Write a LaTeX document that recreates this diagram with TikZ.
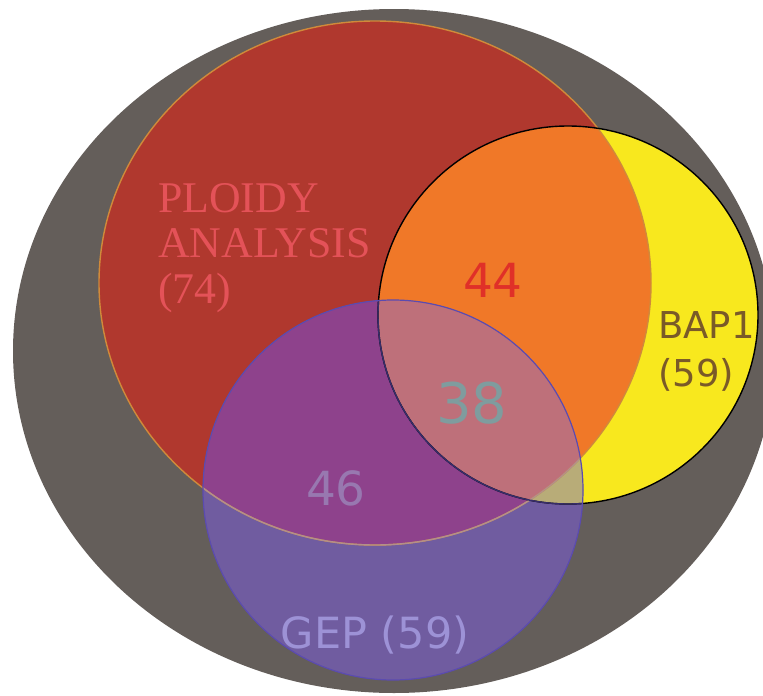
\documentclass[tikz,border=0pt]{standalone}
\usepackage{fontspec}
\setsansfont{DejaVu Sans}
\newfontfamily\ploidyfont{Liberation Serif}

\definecolor{bgGrey}{HTML}{645E5A}
\definecolor{plRed}{HTML}{B0382E}
\definecolor{plOrange}{HTML}{F07828}
\definecolor{bapYellow}{HTML}{F8E81E}
\definecolor{gepBlue}{HTML}{705CA0}
\definecolor{plPurple}{HTML}{8E428C}
\definecolor{bapKhaki}{HTML}{B8AC78}
\definecolor{allPink}{HTML}{BE707A}
\definecolor{plRim}{HTML}{D08A3A}
\definecolor{gepRim}{HTML}{5B4BB0}
\definecolor{ploidyText}{HTML}{E45258}
\definecolor{fourfourText}{HTML}{E03028}
\definecolor{threeeightText}{HTML}{7F9C9E}
\definecolor{foursixText}{HTML}{9878B0}
\definecolor{bapText}{HTML}{7A5A28}
\definecolor{gepText}{HTML}{9D92D6}

\tikzset{
  setlabel/.style={inner sep=0pt},
  rim/.style={line width=1.4pt},
}

\begin{document}
\begin{tikzpicture}[x=1pt, y=-1pt]
\useasboundingbox (0,0) rectangle (763,696);

\coordinate (cAll) at (394,351);
\coordinate (cPl) at (375,283);
\coordinate (cBap) at (568,315);
\coordinate (cGep) at (393,490);

\def\pathAll{(cAll) ellipse [x radius=381pt, y radius=342pt]}
\def\pathPl{(cPl) ellipse [x radius=276pt, y radius=262pt]}
\def\pathBap{(cBap) ellipse [x radius=190pt, y radius=189pt]}
\def\pathGep{(cGep) ellipse [x radius=190pt, y radius=190pt]}

% sets
\fill[bgGrey] \pathAll;
\fill[plRed] \pathPl;
\fill[bapYellow] \pathBap;
\begin{scope}
  \clip \pathBap;
  \fill[plOrange] \pathPl;
\end{scope}
\fill[gepBlue] \pathGep;
\begin{scope}
  \clip \pathGep;
  \fill[plPurple] \pathPl;
  \fill[bapKhaki] \pathBap;
  \clip \pathBap;
  \fill[allPink] \pathPl;
\end{scope}

% rims
\draw[rim, plRim] \pathPl;
\draw[rim, black] \pathBap;
\begin{scope}
  \clip \pathGep;
  \draw[rim, plRim!50!gepBlue!80!white] \pathPl;
  \draw[rim, gepRim!60!black] \pathBap;
\end{scope}
\draw[rim, line width=1.2pt, gepRim] \pathGep;

% labels (base of a multi-line node = last line)
\node[setlabel, text=ploidyText, align=left, anchor=base west,
  font={\ploidyfont\fontsize{43.8}{45.5}\selectfont}] (ploidy) at (158,303) {PLOIDY\\ANALYSIS\\(74)};
\node[setlabel, text=fourfourText, anchor=base,
  font={\sffamily\fontsize{47}{47}\selectfont}] (n44) at (493,297) {44};
\node[setlabel, text=threeeightText, anchor=base,
  font={\sffamily\fontsize{56}{56}\selectfont}] (n38) at (472,423) {38};
\node[setlabel, text=foursixText, anchor=base,
  font={\sffamily\fontsize{47}{47}\selectfont}] (n46) at (336,505) {46};
\node[setlabel, text=bapText, align=left, anchor=base west,
  font={\sffamily\fontsize{37}{48}\selectfont}] (bap) at (658,386) {BAP1\\(59)};
\node[setlabel, text=gepText, anchor=base,
  font={\sffamily\fontsize{43}{43}\selectfont}] (gep) at (375,648) {GEP (59)};
\end{tikzpicture}
\end{document}
